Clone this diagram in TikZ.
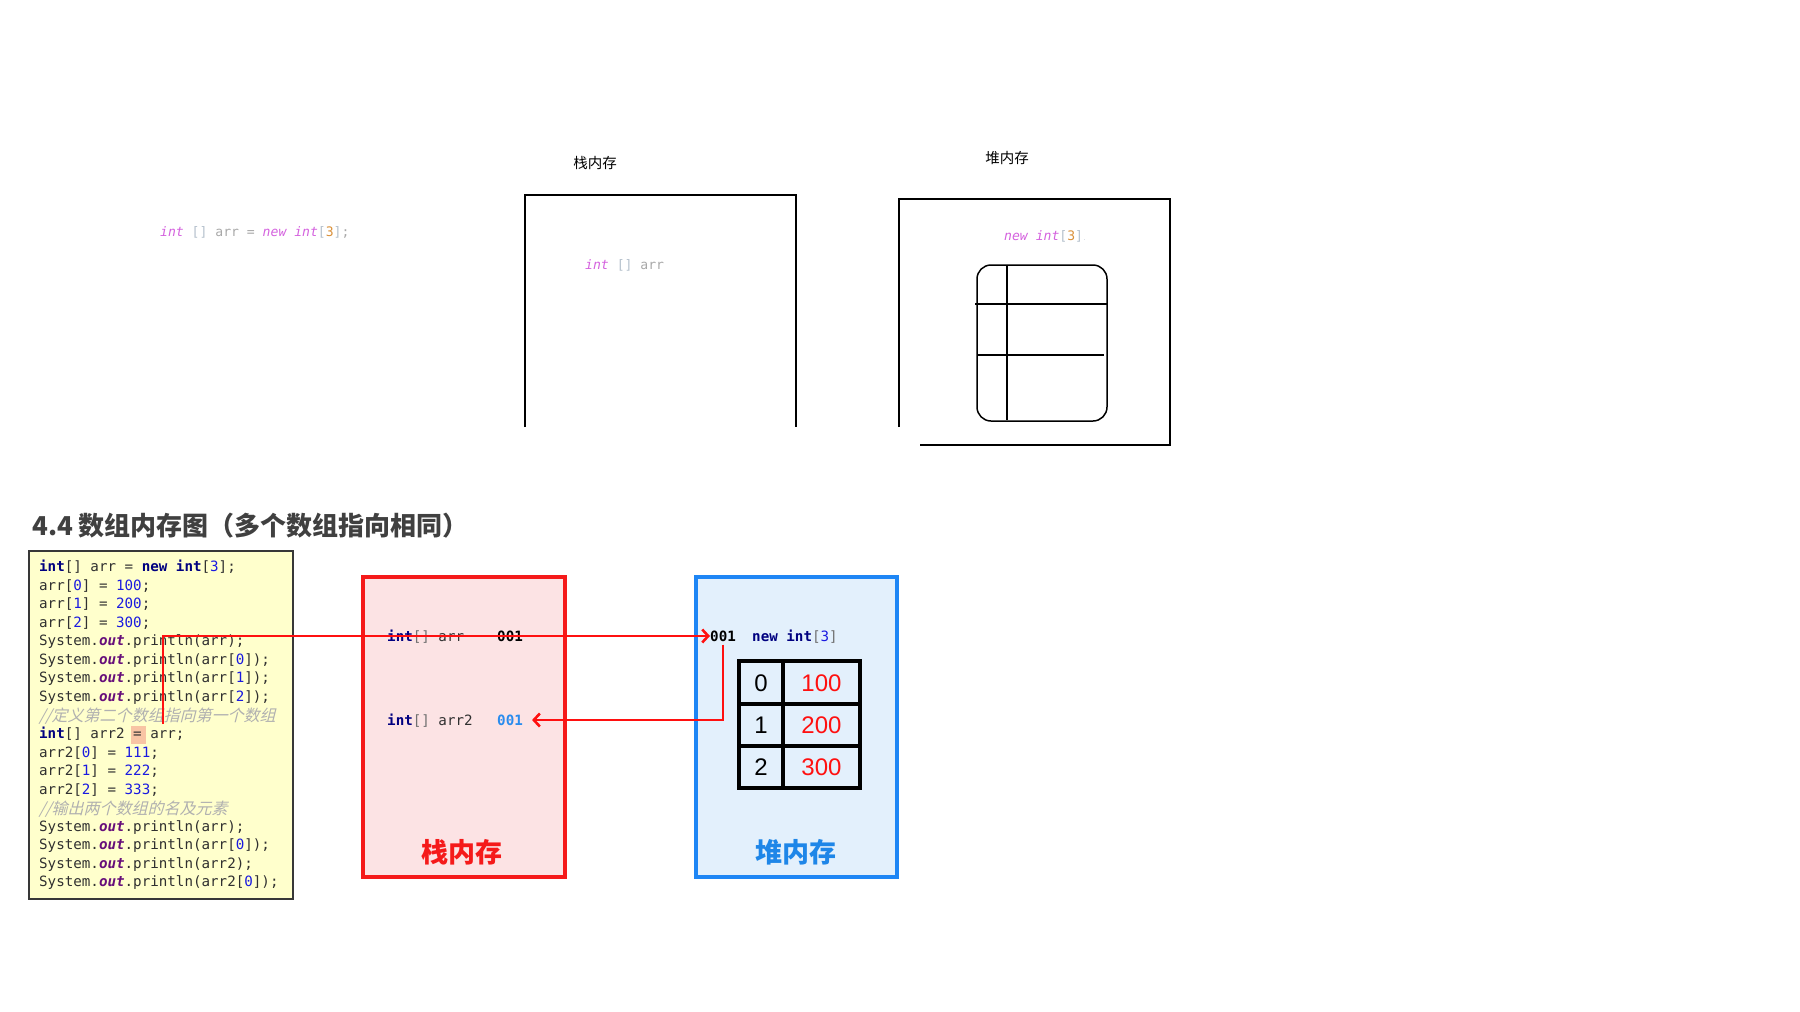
\documentclass[tikz,border=0pt]{standalone}
\usepackage{fontspec}
\setmainfont{Liberation Sans}
\setmonofont{DejaVu Sans Mono}
\newfontfamily\cjk{Noto Sans CJK SC}
\newfontfamily\cjkit[FakeSlant=0.25]{Noto Sans CJK SC}
\usetikzlibrary{arrows.meta}
\definecolor{kwc}{HTML}{000080}
\definecolor{numc}{HTML}{1A1AE0}
\definecolor{outc}{HTML}{660E7A}
\definecolor{cmtc}{HTML}{B0B0B0}
\definecolor{codefg}{HTML}{303030}
\definecolor{hlc}{HTML}{F8C4A4}
\definecolor{codebg}{HTML}{FFFFCC}
\definecolor{codebd}{HTML}{383838}
\definecolor{stkbg}{HTML}{FCE3E4}
\definecolor{stkbd}{HTML}{F51A1A}
\definecolor{heapbg}{HTML}{E3F0FC}
\definecolor{heapbd}{HTML}{1E86F5}
\definecolor{heaptx}{HTML}{1E86E8}
\definecolor{arrc}{HTML}{FF1010}
\definecolor{titlec}{HTML}{404040}
\definecolor{blue001}{HTML}{2A8CEE}
\definecolor{tkw}{HTML}{D462DE}
\definecolor{tbr}{HTML}{B4C0CC}
\definecolor{tgr}{HTML}{A8A8A8}
\definecolor{tor}{HTML}{D9903A}
\definecolor{brgray}{HTML}{707070}
\newcommand\kw[1]{{\bfseries\color{kwc}#1}}
\newcommand\nm[1]{{\color{numc}#1}}
\newcommand\ot{{\bfseries\itshape\color{outc}out}}
\newcommand\tk[1]{{\itshape\color{tkw}#1}}
\newcommand\tb[1]{{\color{tbr}#1}}
\newcommand\tg[1]{{\color{tgr}#1}}
\newcommand\tn[1]{{\color{tor}#1}}
\tikzset{
  code/.style={anchor=west, inner sep=0pt, font=\fontsize{14.2}{16}\selectfont\ttfamily, text=codefg, text height=10pt, text depth=3pt},
  cmt/.style={anchor=west, inner sep=0pt, font=\cjkit\fontsize{16}{18}\selectfont, text=cmtc},
  topcode/.style={anchor=west, inner sep=0pt, font=\fontsize{13.1}{15}\selectfont\ttfamily, text height=10pt, text depth=3pt},
  toplabel/.style={inner sep=0pt, font=\cjk\fontsize{14.5}{16}\selectfont, text=black},
  thinbox/.style={line width=1.3pt, black},
  memlabel/.style={inner sep=0pt, font=\cjk\bfseries\fontsize{27}{30}\selectfont},
  cell/.style={inner sep=0pt, font=\fontsize{24}{28}\selectfont},
  redarrow/.style={draw=arrc, line width=2.6pt, -{Straight Barb[length=6pt,width=13pt]}},
}
\begin{document}
\begin{tikzpicture}[x=1pt,y=-1pt]
\useasboundingbox (0,0) rectangle (1800,1012);

% ---------- top part ----------
\node[topcode] (topline) at (160,233) {\tk{int} \tb{[]} \tg{arr} \tg{=} \tk{new} \tk{int}\tb{[}\tn{3}\tb{]}\tg{;}};
\node[toplabel] (stklabel) at (595,163) {栈内存};
\node[toplabel] (heaplabel) at (1007,158) {堆内存};
% stack box (open bottom)
\draw[thinbox] (525,427) -- (525,195) -- (796,195) -- (796,427);
\node[topcode] (stkarr) at (585,266) {\tk{int} \tb{[]} \tg{arr}};
% heap box
\draw[thinbox] (899,427) -- (899,199) -- (1170,199) -- (1170,445) -- (920,445);
\node[topcode] (heapnew) at (1004,237) {\tk{new} \tk{int}\tb{[}\tn{3}\tb{]}{\color{tbr}\tiny.}};
\draw[line width=1.5pt, rounded corners=14pt] (977,265) rectangle (1107,421);
\draw[line width=1.2pt] (1007,265) -- (1007,420);
\draw[line width=1.5pt] (975,304) -- (1107,304);
\draw[line width=1.5pt] (977,355) -- (1104,355);

% ---------- bottom part ----------
\node[anchor=west, inner sep=0pt, font=\cjk\bfseries\fontsize{26}{30}\selectfont, text=titlec] (title) at (32,526) {4.4 数组内存图（多个数组指向相同）};

% code box
\node[draw=codebd, fill=codebg, line width=2pt, minimum width=264pt, minimum height=348pt, inner sep=0pt] (codebox) at (161,725) {};
\fill[hlc] (131,726) rectangle (146,744);
\node[code] (c1)  at (39,568.0) {\kw{int}[] arr = \kw{new} \kw{int}[\nm{3}];};
\node[code] (c2)  at (39,586.6) {arr[\nm{0}] = \nm{100};};
\node[code] (c3)  at (39,605.1) {arr[\nm{1}] = \nm{200};};
\node[code] (c4)  at (39,623.7) {arr[\nm{2}] = \nm{300};};
\node[code] (c5)  at (39,642.2) {System.\ot.println(arr);};
\node[code] (c6)  at (39,660.8) {System.\ot.println(arr[\nm{0}]);};
\node[code] (c7)  at (39,679.3) {System.\ot.println(arr[\nm{1}]);};
\node[code] (c8)  at (39,697.9) {System.\ot.println(arr[\nm{2}]);};
\node[cmt]  (c9)  at (39,716.4) {//定义第二个数组指向第一个数组};
\node[code] (c10) at (39,735.0) {\kw{int}[] arr2 = arr;};
\node[code] (c11) at (39,753.5) {arr2[\nm{0}] = \nm{111};};
\node[code] (c12) at (39,772.1) {arr2[\nm{1}] = \nm{222};};
\node[code] (c13) at (39,790.6) {arr2[\nm{2}] = \nm{333};};
\node[cmt]  (c14) at (39,809.2) {//输出两个数组的名及元素};
\node[code] (c15) at (39,827.7) {System.\ot.println(arr);};
\node[code] (c16) at (39,846.3) {System.\ot.println(arr[\nm{0}]);};
\node[code] (c17) at (39,864.8) {System.\ot.println(arr2);};
\node[code] (c18) at (39,883.4) {System.\ot.println(arr2[\nm{0}]);};

% stack box
\node[draw=stkbd, fill=stkbg, line width=3.5pt, minimum width=202pt, minimum height=300pt, inner sep=0pt] (stk) at (464,727) {};
\node[code] (sarr) at (387,638) {\kw{int}{\color{brgray}[]} arr};
\node[code, text=black] (s1v) at (497,638) {\bfseries 001};
\node[code] (sarr2) at (387,722) {\kw{int}{\color{brgray}[]} arr2};
\node[code, text=blue001] (s2v) at (497,722) {\bfseries 001};
\node[memlabel, text=stkbd] (stkname) at (462,852) {栈内存};

% heap box
\node[draw=heapbd, fill=heapbg, line width=3.5pt, minimum width=201pt, minimum height=300pt, inner sep=0pt] (heap) at (796.5,727) {};
\node[code, text=black] (h001) at (710,638) {\bfseries 001};
\node[code] (hnew) at (752,638) {\kw{new} \kw{int}{\color{brgray}[}\nm{3}{\color{brgray}]}};
\draw[line width=3.5pt, black] (739,661) rectangle (860,788);
\draw[line width=3.5pt, black] (783,661) -- (783,788);
\draw[line width=3.5pt, black] (739,704) -- (860,704);
\draw[line width=3.5pt, black] (739,746) -- (860,746);
\node[cell, text=black] (i0) at (761,683) {0};
\node[cell, text=black] (i1) at (761,725.5) {1};
\node[cell, text=black] (i2) at (761,767.5) {2};
\node[cell, text=arrc] (v0) at (821.5,683) {100};
\node[cell, text=arrc] (v1) at (821.5,725.5) {200};
\node[cell, text=arrc] (v2) at (821.5,767.5) {300};
\node[memlabel, text=heaptx] (heapname) at (796,852) {堆内存};

% connectors
\coordinate (codestart) at (163,724);
\draw[redarrow] (codestart) |- ([yshift=2pt]h001.west);
\draw[redarrow] (h001.south) |- ([xshift=9pt,yshift=2pt]s2v.east);
\end{tikzpicture}
\end{document}
